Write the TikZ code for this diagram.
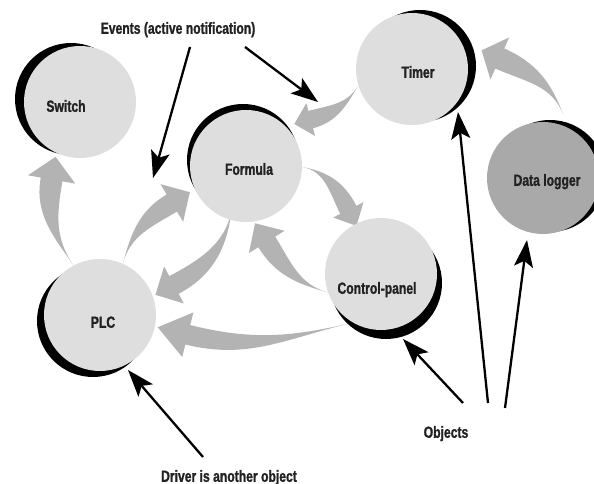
\documentclass[tikz,border=0pt]{standalone}
\usepackage{fontspec}
\newfontfamily\labfont{Liberation Sans}[FakeStretch=0.75,FakeBold=1.2]
\usetikzlibrary{calc,shadows,arrows.meta}
\pgfdeclarelayer{back}
\pgfsetlayers{back,main}
\definecolor{circfill}{HTML}{DEDEDE}
\definecolor{arrowgray}{HTML}{B3B3B3}
\definecolor{loggerfill}{HTML}{A9A9A9}
\definecolor{labtext}{HTML}{222222}
\tikzset{
  obj/.style={circle, minimum size=112pt, inner sep=0pt, fill=circfill, draw=none},
  shad/.style 2 args={drop shadow={shadow xshift=#1pt, shadow yshift=#2pt, fill=black, opacity=1}},
  lab/.style={font=\labfont\bfseries\fontsize{16.2}{19}\selectfont, text=labtext, inner sep=0pt, text height=11.6pt, text depth=0pt},
  pointer/.style={line width=2.3pt, draw=black, -{Stealth[length=27pt,width=19pt,inset=6pt]}},
}
% #1 tail, #2 tip, #3 direction at tip, #4 direction leaving tail,
% #5 head length, #6 head half width, #7 body half width
\newcommand\garrow[7]{%
  \pgfmathsetmacro\gback{#3+180}%
  \pgfmathsetmacro\gleft{#3+90}%
  \pgfmathsetmacro\gright{#3-90}%
  \fill[arrowgray] (#1) to[out=#4,in=\gback]
    ($(#2)+(\gback:#5pt)+(\gleft:#7pt)$) --
    ($(#2)+(\gback:#5pt)+(\gleft:#6pt)$) -- (#2) --
    ($(#2)+(\gback:#5pt)+(\gright:#6pt)$) --
    ($(#2)+(\gback:#5pt)+(\gright:#7pt)$) to[out=\gback,in=#4] (#1) -- cycle;%
}
\begin{document}
\begin{tikzpicture}[x=1pt,y=1pt]
\clip (0,0) rectangle (594,484);

% objects
\node[obj, shad={-9}{3}] (switch) at (80,382) {};
\node[obj, shad={-3}{6}] (formula) at (246,318) {};
\node[obj, shad={8}{3}] (timer) at (412,415) {};
\node[obj, fill=loggerfill, shad={7}{2}] (logger) at (543,306) {};
\node[obj, shad={-7}{-6}] (plc) at (100,169) {};
\node[obj, shad={5}{-9}] (control) at (381,210) {};

% grey event arrows
\begin{pgfonlayer}{back}
\coordinate (t1) at (plc.118);               \coordinate (p1) at ($(switch)+(246:60pt)$);
\coordinate (t2) at (plc.66);                \coordinate (p2) at ($(formula)+(205:62pt)$);
\coordinate (t3) at ($(formula)+(250:40pt)$); \coordinate (p3) at ($(plc)+(20:59pt)$);
\coordinate (t4) at (control.199);           \coordinate (p4) at ($(formula)+(279:58pt)$);
\coordinate (t5) at (control.240);           \coordinate (p5) at ($(plc)+(348:59pt)$);
\coordinate (t6) at (formula.359);           \coordinate (p6) at ($(control)+(117:54pt)$);
\coordinate (t7) at (timer.197);             \coordinate (p7) at ($(formula)+(41:64pt)$);
\coordinate (t8) at ($(logger)+(72:66pt)$);  \coordinate (p8) at ($(timer)+(15:72pt)$);
\garrow{t1}{p1}{80}{125}{23}{24}{11}
\garrow{t2}{p2}{31}{75}{21}{22}{10}
\garrow{t3}{p3}{208}{265}{21}{21}{10}
\garrow{t4}{p4}{122}{165}{22}{21}{10}
\garrow{t5}{p5}{166}{193}{31}{23}{10}
\garrow{t6}{p6}{297}{350}{18}{17}{9}
\garrow{t7}{p7}{195}{240}{17}{17}{9}
\garrow{t8}{p8}{156}{110}{20}{23}{11}
\end{pgfonlayer}

% labels
\node[lab] (events)   at (178,456) {Events (active notification)};
\node[lab] (lswitch)  at (66,378)  {Switch};
\node[lab] (lformula) at (249,315) {Formula};
\node[lab] (ltimer)   at (418,412) {Timer};
\node[lab] (llogger)  at (547,304) {Data logger};
\node[lab] (lplc)     at (103,162) {PLC};
\node[lab] (lcontrol) at (377,196) {Control-panel};
\node[lab] (objects)  at (446,52)  {Objects};
\node[lab] (driver)   at (229,8)   {Driver is another object};

% black pointers
\coordinate (ea) at (190,437); \coordinate (eat) at (153,306);
\coordinate (eb) at (245,437); \coordinate (ebt) at (318,382);
\coordinate (da) at (203,27);  \coordinate (dat) at (128,114);
\coordinate (oa) at (463,81);  \coordinate (oat) at (403,145);
\coordinate (ob) at (488,81);  \coordinate (obt) at (458,372);
\coordinate (oc) at (505,76);  \coordinate (oct) at (527,244);
\draw[pointer] (ea) -- (eat);
\draw[pointer] (eb) -- (ebt);
\draw[pointer] (da) -- (dat);
\draw[pointer] (oa) -- (oat);
\draw[pointer] (ob) -- (obt);
\draw[pointer] (oc) -- (oct);
\end{tikzpicture}
\end{document}
